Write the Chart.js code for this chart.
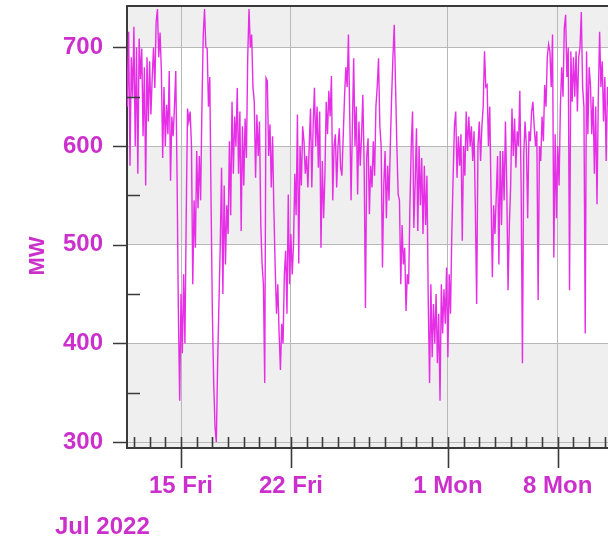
<!DOCTYPE html>
<html>
<head>
<meta charset="utf-8">
<script src="https://cdn.jsdelivr.net/npm/chart.js@4.4.0/dist/chart.umd.min.js"></script>
<style>
  html, body { margin: 0; padding: 0; background: #fff; overflow: hidden; }
</style>
</head>
<body>
<canvas id="chart" width="608" height="544"></canvas>
<script>
// Load in MW, one sample every 2 hours. x is counted in days from 1 Jul 2022 00:00.
const startDay = 10.5;   // 11 Jul 12:00
const stepDays = 1 / 12;

const load = [
  705, 640, 716, 580, 690, 650, 721, 600, 700, 572, 709, 668,   // 11 Jul 12h
  699, 610, 680, 560, 690, 625, 686, 632, 670, 700, 659, 726,
  739, 690, 715, 676, 588, 660, 600, 642, 612, 676, 565, 630,
  610, 640, 676, 568, 430, 342, 450, 390, 470, 400, 531, 638,
  625, 635, 600, 460, 545, 497, 595, 537, 590, 545, 640, 712,   // 15 Jul 12h
  739, 700, 699, 640, 670, 540, 430, 360, 315, 300, 380, 440,
  500, 578, 450, 560, 480, 540, 511, 605, 530, 645, 572, 630,
  600, 659, 572, 635, 514, 620, 560, 628, 588, 690, 739, 700,
  713, 660, 645, 568, 632, 590, 625, 520, 480, 460, 360, 669,
  666, 590, 622, 558, 610, 535, 477, 430, 460, 410, 373, 420,
  400, 470, 494, 430, 551, 460, 511, 470, 500, 572, 530, 632,   // 21 Jul 12h
  481, 600, 560, 620, 605, 572, 590, 558, 600, 638, 558, 620,
  659, 600, 640, 578, 635, 497, 585, 527, 570, 645, 612, 656,
  630, 671, 545, 600, 612, 558, 600, 618, 578, 570, 610, 650,
  680, 660, 713, 630, 545, 620, 689, 600, 640, 551, 625, 580,
  610, 652, 580, 436, 590, 608, 531, 580, 558, 605, 570, 640,
  660, 689, 620, 600, 477, 560, 595, 527, 580, 545, 600, 650,
  690, 723, 662, 600, 551, 545, 460, 520, 480, 497, 433, 470,
  460, 540, 600, 635, 517, 562, 618, 514, 600, 540, 588, 511,
  580, 520, 570, 443, 360, 460, 386, 440, 400, 450, 380, 430,
  342, 460, 410, 455, 420, 477, 386, 470, 430, 511, 568, 620,   // 31 Jul 12h
  635, 568, 610, 580, 612, 504, 600, 570, 635, 595, 630, 600,
  620, 585, 615, 537, 440, 600, 625, 585, 620, 640, 696, 660,
  662, 600, 640, 551, 467, 540, 511, 550, 590, 480, 595, 520,
  595, 545, 625, 560, 454, 520, 560, 638, 590, 628, 578, 615,
  600, 656, 560, 380, 592, 625, 600, 527, 615, 605, 635, 645,
  620, 600, 615, 444, 600, 585, 630, 605, 662, 640, 690, 703,
  696, 660, 713, 487, 612, 527, 600, 560, 640, 680, 650, 720,   // 7 Aug 12h
  733, 670, 700, 454, 696, 645, 690, 650, 696, 635, 690, 700,
  736, 660, 640, 410, 696, 612, 680, 662, 612, 650, 572, 640,
  541, 650, 716, 660, 686, 625, 670, 585, 660, 640
];

const xTickDays = [14, 21, 31, 38];
const xTickLabels = ['15 Fri', '22 Fri', '1 Mon', '8 Mon'];
const yTicks = [300, 350, 400, 450, 500, 550, 600, 650, 700];
const shadedBands = [[250, 400], [500, 600], [700, 800]];

const labelColor = '#cc30cc';
const lineColor = 'rgb(230, 46, 230)';
const axisColor = '#3a3a3a';
const gridColor = '#b8b8b8';
const bandColor = '#efefef';
const fontFamily = '"Liberation Sans", Arial, sans-serif';
const labelFont = { family: fontFamily, size: 24, weight: 'bold' };

const isMajorY = (v) => v % 100 === 0;

const points = load.map((v, i) => ({ x: startDay + i * stepDays, y: v }));

// keep the plot box where it is, whatever the tick labels measure
const noScalePadding = (scale) => {
  scale.paddingTop = 0;
  scale.paddingBottom = 0;
  scale.paddingLeft = 0;
  scale.paddingRight = 0;
};

// grey bands behind the plot, plus the frame, tick marks and extra titles
const decorations = {
  id: 'decorations',
  beforeDraw(chart) {
    const { ctx, chartArea: a, scales: { y } } = chart;
    ctx.save();
    ctx.fillStyle = '#fff';
    ctx.fillRect(0, 0, chart.width, chart.height);
    ctx.fillStyle = bandColor;
    shadedBands.forEach(([lo, hi]) => {
      const top = Math.max(a.top, y.getPixelForValue(hi));
      const bottom = Math.min(a.bottom, y.getPixelForValue(lo));
      if (bottom > top) ctx.fillRect(a.left, top, a.right - a.left, bottom - top);
    });
    ctx.restore();
  },
  afterDraw(chart) {
    const { ctx, chartArea: a, scales: { x, y } } = chart;
    ctx.save();
    ctx.strokeStyle = axisColor;
    ctx.lineWidth = 2;
    ctx.beginPath();
    ctx.moveTo(a.left, a.top);
    ctx.lineTo(a.right, a.top);
    ctx.stroke();

    ctx.lineWidth = 1.6;
    ctx.beginPath();
    x.ticks.forEach((t) => {
      const px = Math.round(x.getPixelForValue(t.value)) + 0.5;
      ctx.moveTo(px, a.bottom);
      ctx.lineTo(px, a.bottom - 11);
      if (xTickDays.includes(t.value)) {
        ctx.moveTo(px, a.bottom);
        ctx.lineTo(px, a.bottom + 20);
      }
    });
    y.ticks.forEach((t) => {
      const py = Math.round(y.getPixelForValue(t.value)) + 0.5;
      ctx.moveTo(a.left, py);
      ctx.lineTo(isMajorY(t.value) ? a.left - 14 : a.left + 13, py);
    });
    ctx.stroke();

    ctx.fillStyle = labelColor;
    ctx.font = 'bold 22px ' + fontFamily;
    ctx.textAlign = 'center';
    ctx.textBaseline = 'middle';
    ctx.translate(38, 256);
    ctx.rotate(-Math.PI / 2);
    ctx.fillText('MW', 0, 0);
    ctx.restore();

    ctx.save();
    ctx.fillStyle = labelColor;
    ctx.font = 'bold 24px ' + fontFamily;
    ctx.textAlign = 'left';
    ctx.textBaseline = 'alphabetic';
    ctx.fillText('Jul 2022', 55, 534);
    ctx.restore();
  }
};

new Chart(document.getElementById('chart'), {
  type: 'line',
  data: {
    datasets: [{
      data: points,
      borderColor: lineColor,
      borderWidth: 1.4,
      pointRadius: 0,
      tension: 0,
    }],
  },
  options: {
    responsive: false,
    animation: false,
    devicePixelRatio: 1,
    layout: { padding: { top: 6, right: 0, bottom: 0, left: 0 } },
    plugins: {
      legend: { display: false },
      tooltip: { enabled: false },
    },
    scales: {
      x: {
        type: 'linear',
        min: 10.56,
        max: 41.2,
        afterBuildTicks: (scale) => {
          const ticks = [];
          for (let d = 11; d <= 41; d++) ticks.push({ value: d });
          scale.ticks = ticks;
        },
        afterFit: (scale) => {
          scale.height = 96;
          noScalePadding(scale);
        },
        grid: {
          drawTicks: false,
          color: (c) => (c.tick && xTickDays.includes(c.tick.value) ? gridColor : 'rgba(0,0,0,0)'),
          lineWidth: 1,
        },
        border: { color: axisColor, width: 2 },
        ticks: {
          autoSkip: false,
          maxRotation: 0,
          padding: 24,
          color: labelColor,
          font: labelFont,
          callback: (value) => {
            const k = xTickDays.indexOf(value);
            return k < 0 ? '' : xTickLabels[k];
          },
        },
      },
      y: {
        min: 294,
        max: 742,
        afterBuildTicks: (scale) => {
          scale.ticks = yTicks.map((v) => ({ value: v }));
        },
        afterFit: (scale) => {
          scale.width = 127;
          noScalePadding(scale);
        },
        grid: {
          drawTicks: false,
          color: (c) => (c.tick && isMajorY(c.tick.value) ? gridColor : 'rgba(0,0,0,0)'),
          lineWidth: 1,
        },
        border: { color: axisColor, width: 2 },
        ticks: {
          padding: 24,
          color: labelColor,
          font: labelFont,
          callback: (value) => (isMajorY(value) ? String(value) : ''),
        },
      },
    },
  },
  plugins: [decorations],
});
</script>
</body>
</html>
